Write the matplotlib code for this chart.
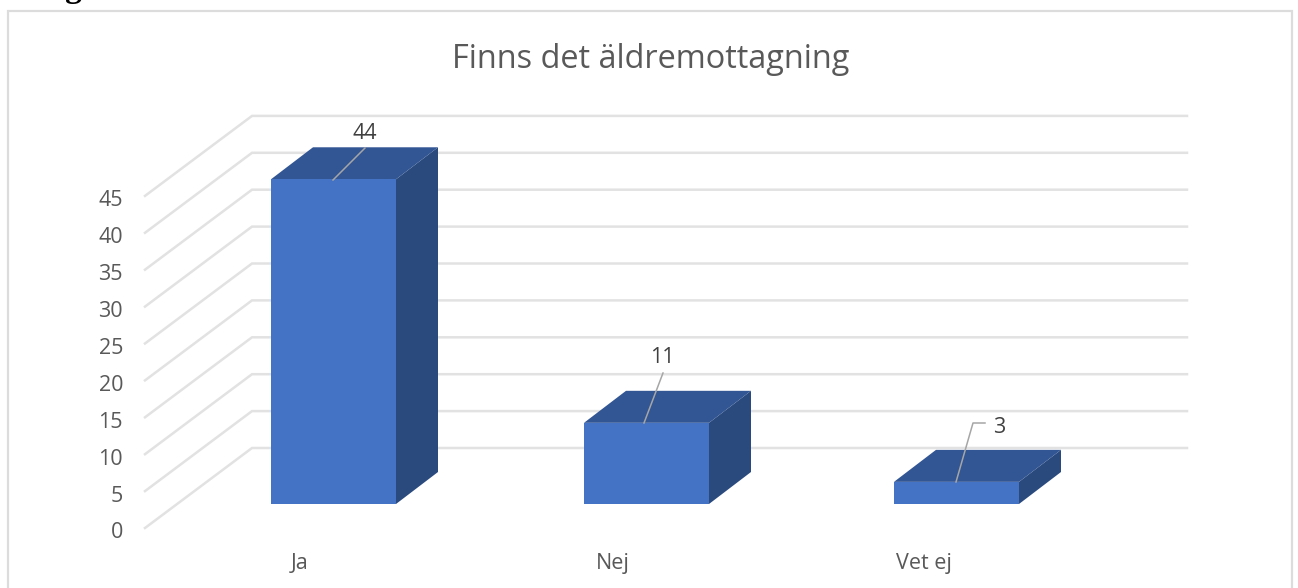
import matplotlib
matplotlib.use("Agg")
import matplotlib.pyplot as plt
from matplotlib.patches import Polygon, Rectangle

categories = ["Ja", "Nej", "Vet ej"]
values = [44, 11, 3]
y_ticks = [0, 5, 10, 15, 20, 25, 30, 35, 40, 45]

W, H = 1298, 588
px_per_unit = 7.38
floor_px = 528

plt.rcParams['font.family'] = ['Open Sans', 'DejaVu Sans']

fig = plt.figure(figsize=(W / 100, H / 100), dpi=100)
ax = fig.add_axes([0, 0, 1, 1])
ax.set_xlim(0, W)
# y axis is in chart units, zero sits on the front floor line
ax.set_ylim(-(H - floor_px) / px_per_unit, floor_px / px_per_unit)
ax.axis("off")


def dy(px):
    return px / px_per_unit


def py(px):
    return (floor_px - px) / px_per_unit


# outer chart frame, runs off the bottom of the picture
ax.add_patch(Rectangle((7.5, py(600)), 1284, dy(600 - 11), fill=False, ec="#DCDCDC", lw=1.6))

# caption above the frame, only the tail of the g shows in the picture
ax.text(15, py(-3.5), "Diagram", family="Liberation Serif", fontweight="bold", fontsize=24,
        color="black", ha="left", va="baseline")

# gridlines, floor going back then straight across
for t in y_ticks:
    ax.plot([145, 252, 1187], [t, t + dy(80), t + dy(80)], color="#E2E2E2", lw=1.8,
            solid_joinstyle="miter", zorder=1)
    ax.text(123, t + dy(-2.5), str(t), ha="right", va="center_baseline", fontsize=15.5, color="#595959")

bar_left = [271, 584, 894]
bar_w = 125
base = dy(24)
depth_x, depth_y = 42, dy(32)
for x, v in zip(bar_left, values):
    top = base + v
    ax.add_patch(Polygon([(x + bar_w, base), (x + bar_w + depth_x, base + depth_y),
                          (x + bar_w + depth_x, top + depth_y), (x + bar_w, top)],
                         fc="#2A4A7E", ec="none", zorder=3))
    ax.add_patch(Polygon([(x, top), (x + depth_x, top + depth_y),
                          (x + bar_w + depth_x, top + depth_y), (x + bar_w, top)],
                         fc="#325594", ec="none", zorder=3))
    ax.add_patch(Rectangle((x, base), bar_w, v, fc="#4472C4", ec="none", zorder=4))

# data labels and their leader lines
label_x = [365, 662, 999]
label_y = [131, 355, 425]
leaders = [[(333, 180), (365, 148)], [(644, 423), (663, 373)], [(956, 482), (973, 423), (985, 423)]]
for v, lx, ly, pts in zip(values, label_x, label_y, leaders):
    ax.plot([p[0] for p in pts], [py(p[1]) for p in pts], color="#A6A6A6", lw=1.1, zorder=5)
    ax.text(lx, py(ly), str(v), ha="center", va="center_baseline", fontsize=15.5, color="#404040", zorder=6)

cat_x = [291, 596, 896]
for c, x in zip(categories, cat_x):
    ax.text(x, py(561), c, ha="left", va="center_baseline", fontsize=15.5, color="#595959")

ax.text(650.5, py(56), "Finns det äldremottagning", ha="center", va="center_baseline", fontsize=23.4, color="#595959")

fig.savefig("out.png", dpi=100)
